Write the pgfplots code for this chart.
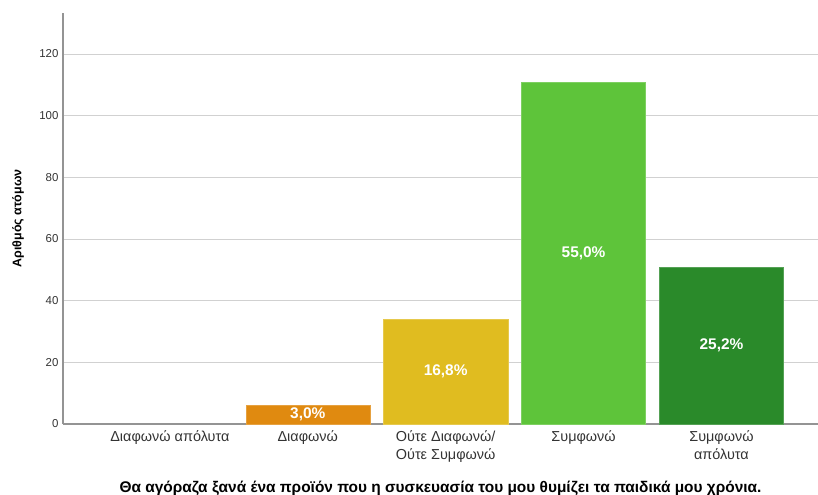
\documentclass[border=0pt]{standalone}
\usepackage{pgfplots}
\usepackage{pgfplotstable}
\pgfplotsset{compat=1.18}
\usepackage{fontspec}
\setmainfont{Liberation Sans}
\definecolor{cOr}{RGB}{224,138,16}
\definecolor{cYe}{RGB}{224,188,32}
\definecolor{cLg}{RGB}{94,196,58}
\definecolor{cDg}{RGB}{42,138,42}
\pgfplotstableread{
x y lab
1 3 3,0\%
2 17 16,8\%
3 55.5 55,0\%
4 25.5 25,2\%
}\labtab
\begin{document}
\begin{tikzpicture}
\begin{axis}[
  scale only axis, width=755bp, height=411bp,
  xmin=-0.775, xmax=4.70, ymin=0, ymax=133.3,
  axis x line*=bottom, axis y line*=left,
  xtick={0,1,2,3,4},
  xticklabels={{Διαφωνώ απόλυτα},{Διαφωνώ},{Ούτε Διαφωνώ/\\Ούτε Συμφωνώ},{Συμφωνώ},{Συμφωνώ\\απόλυτα}},
  ytick={0,20,...,120},
  ymajorgrids,
  grid style={draw=black!18, line width=0.9pt},
  x axis line style={draw=black!42, line width=1.3pt},
  y axis line style={draw=black!42, line width=1.1pt},
  major tick length=0pt,
  /pgf/number format/assume math mode=true,
  yticklabel style={font=\fontsize{11.5}{12.5}\selectfont, text=black!80, xshift=-1bp},
  xticklabel style={font=\fontsize{14.5}{18}\selectfont, text=black!80, align=center, yshift=-3.5bp},
  ylabel={Αριθμός ατόμων},
  ylabel style={at={(axis description cs:-0.0596,0.5)}, anchor=center, font=\bfseries\fontsize{12.5}{14}\selectfont, text=black},
  xlabel={\bfseries Θα αγόραζα ξανά ένα προϊόν που η συσκευασία του μου θυμίζει τα παιδικά μου χρόνια.},
  xlabel style={at={(axis description cs:0.5,0)}, anchor=center, yshift=-64bp, font=\fontsize{15.5}{17}\selectfont, text=black},
  ybar, bar width=0.9, bar shift=0pt,
  clip=false,
]
\addplot[fill=cOr, draw=cOr!80!white] coordinates {(1,6)};
\addplot[fill=cYe, draw=cYe!80!white] coordinates {(2,34)};
\addplot[fill=cLg, draw=cLg!80!white] coordinates {(3,111)};
\addplot[fill=cDg, draw=cDg!80!white] coordinates {(4,51)};
\addplot[only marks, mark=none, nodes near coords, point meta=explicit symbolic,
  nodes near coords align=center,
  nodes near coords style={anchor=center, text=white, font=\bfseries\fontsize{15.5}{18}\selectfont}]
  table[x=x, y=y, meta=lab] {\labtab};
\coordinate (sw) at (rel axis cs:0,0);
\coordinate (ne) at (rel axis cs:1,1);
\end{axis}
\pgfresetboundingbox
\useasboundingbox ([shift={(-63bp,-71bp)}]sw) rectangle ([shift={(0bp,13bp)}]ne);
\end{tikzpicture}
\end{document}
